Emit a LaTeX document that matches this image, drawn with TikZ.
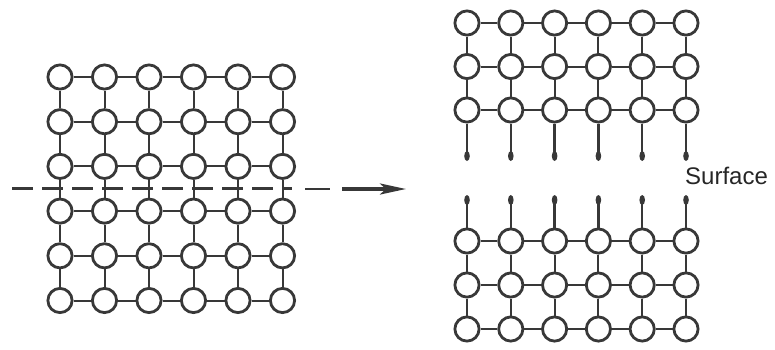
\documentclass[tikz,border=0pt]{standalone}
\usepackage{fontspec}
\setmainfont{Liberation Sans}
\usetikzlibrary{arrows.meta}
\definecolor{ink}{HTML}{383838}
\begin{document}
\begin{tikzpicture}[x=1pt,y=-1pt,
  atom/.style={circle, draw=ink, line width=2.8pt, minimum size=24.2pt, inner sep=0pt, fill=white},
  bond/.style={draw=ink, line width=2pt},
  danglebond/.style={draw=ink, line width=2.4pt},
  cutline/.style={draw=ink, line width=2.4pt, dash pattern=on 21pt off 9pt},
  blob/.style={fill=ink},
  label/.style={font=\fontsize{24}{28}\selectfont, text=black!85, inner sep=0pt}]
\useasboundingbox (0,0) rectangle (775,349);

% ---- intact crystal: 6 x 6 lattice ----
\foreach \i in {0,...,5}
  \foreach \j in {0,...,5}
    \node[atom] (L\i\j) at ({60+44.5*\i},{77+44.7*\j}) {};
\foreach \i in {0,...,4}{
  \pgfmathtruncatemacro\n{\i+1}
  \foreach \j in {0,...,5}{
    \draw[bond] (L\i\j) -- (L\n\j);
    \draw[bond] (L\j\i) -- (L\j\n);
  }
}

% ---- cleavage plane and arrow ----
\coordinate (cutA) at (12,188.5);
\coordinate (cutB) at (292,188.5);
\coordinate (dashA) at (305,189);
\coordinate (dashB) at (330,189);
\coordinate (arrA) at (342,189);
\coordinate (arrB) at (406,189);
\draw[cutline] (cutA) -- (cutB);
\draw[ink, line width=2.4pt] (dashA) -- (dashB);
\draw[ink, line width=3.6pt, -{Stealth[length=26pt, width=11pt, inset=6pt]}] (arrA) -- (arrB);

% ---- cleaved halves ----
\foreach \i in {0,...,5}{
  \foreach \j/\y in {0/23, 1/66.5, 2/110}
    \node[atom] (T\i\j) at ({467+43.8*\i},\y) {};
  \foreach \j/\y in {0/241, 1/285, 2/329}
    \node[atom] (B\i\j) at ({467+43.8*\i},\y) {};
  % dangling bonds at the new surfaces
  \coordinate (Td\i) at ({467+43.8*\i},156);
  \coordinate (Bu\i) at ({467+43.8*\i},200);
}
\foreach \i in {0,...,4}{
  \pgfmathtruncatemacro\n{\i+1}
  \foreach \j in {0,1,2}{
    \draw[bond] (T\i\j) -- (T\n\j);
    \draw[bond] (B\i\j) -- (B\n\j);
  }
}
\foreach \i in {0,...,5}{
  \draw[bond] (T\i0) -- (T\i1);
  \draw[bond] (T\i1) -- (T\i2);
  \draw[bond] (B\i0) -- (B\i1);
  \draw[bond] (B\i1) -- (B\i2);
  \draw[danglebond] (T\i2) -- (Td\i);
  \draw[danglebond] (Bu\i) -- (B\i0);
  \fill[blob] (Td\i) ellipse (2.8pt and 5pt);
  \fill[blob] (Bu\i) ellipse (2.8pt and 5pt);
}

\node[label, anchor=base west] (surf) at (685,184) {Surface};
\end{tikzpicture}
\end{document}
